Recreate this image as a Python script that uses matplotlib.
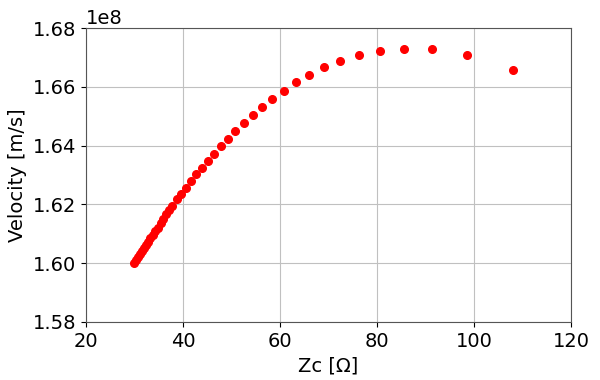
import matplotlib
matplotlib.use("Agg")
import matplotlib.pyplot as plt

# Characteristic impedance [Ohm] and propagation velocity [m/s]
zc = [29.9, 30.3, 30.7, 31.1, 31.5, 31.9, 32.3, 32.8, 33.3, 33.8, 34.3, 34.8,
      35.4, 36.0, 36.6, 37.2, 37.8, 38.8, 39.6, 40.6, 41.6, 42.8, 44.0, 45.2,
      46.4, 47.8, 49.2, 50.8, 52.6, 54.4, 56.4, 58.4, 60.8, 63.3, 66.0, 69.1,
      72.4, 76.2, 80.6, 85.6, 91.3, 98.6, 108.0]
velocity = [1.6000, 1.6010, 1.6020, 1.6030, 1.6040, 1.6050, 1.6060, 1.6072,
            1.6084, 1.6097, 1.6109, 1.6121, 1.6136, 1.6151, 1.6166, 1.6181,
            1.6196, 1.6217, 1.6235, 1.6257, 1.6279, 1.6303, 1.6324, 1.6349,
            1.6372, 1.6399, 1.6422, 1.6449, 1.6478, 1.6503, 1.6530, 1.6560,
            1.6586, 1.6615, 1.6641, 1.6666, 1.6688, 1.6707, 1.6722, 1.6729,
            1.6729, 1.6707, 1.6658]
velocity = [v * 1e8 for v in velocity]

plt.rc("font", size=14)

fig = plt.figure(figsize=(6, 3.8), dpi=100)
ax = fig.add_axes([0.143, 0.153, 0.809, 0.773])
ax.plot(zc, velocity, "ro", markersize=5.5)
ax.set_xlim(20, 120)
ax.set_ylim(1.58e8, 1.68e8)
ax.set_xlabel("Zc [Ω]")
ax.set_ylabel("Velocity [m/s]")
ax.grid(True, color="#c0c0c0")
ax.set_axisbelow(True)
for s in ax.spines.values():
    s.set_color("#555555")

fig.savefig("out.png", dpi=100)
